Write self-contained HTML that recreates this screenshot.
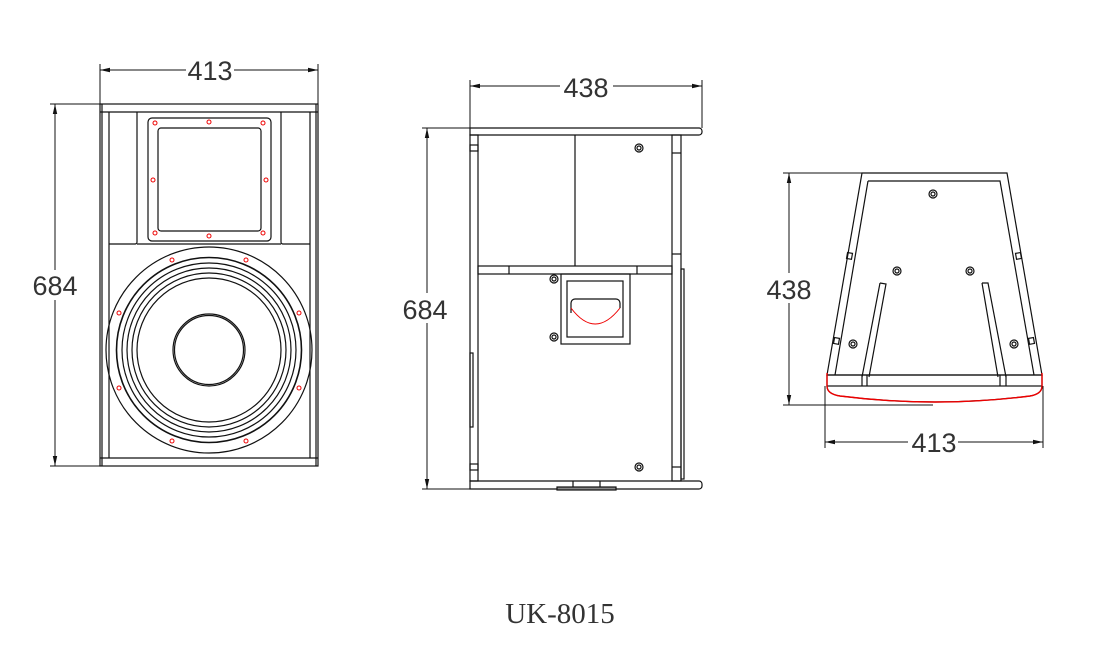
<!DOCTYPE html>
<html><head><meta charset="utf-8"><style>
html,body{margin:0;padding:0;background:#fff;}
svg{display:block}
text{font-family:"Liberation Sans",sans-serif;fill:#333;}
</style></head><body>
<svg width="1101" height="662" viewBox="0 0 1101 662" xmlns="http://www.w3.org/2000/svg">
<defs>
<marker id="ar" viewBox="0 0 10 6" refX="10" refY="3" markerWidth="10" markerHeight="6" orient="auto-start-reverse" markerUnits="userSpaceOnUse"><path d="M10,3 L0,0.8 L0,5.2 Z" fill="#111"/></marker>
</defs>
<g fill="none" stroke="#111" stroke-width="1.2">
<!-- FRONT VIEW -->
<rect x="100" y="104" width="218" height="362"/>
<line x1="102" y1="104" x2="102" y2="466"/>
<line x1="316" y1="104" x2="316" y2="466"/>
<line x1="100" y1="112" x2="318" y2="112"/>
<line x1="100" y1="458" x2="318" y2="458"/>
<line x1="109" y1="112" x2="109" y2="458"/>
<line x1="310" y1="112" x2="310" y2="458"/>
<path d="M109,244 H135 a2,2 0 0 0 2,-2 V112"/>
<path d="M310,244 H283 a2,2 0 0 1 -2,-2 V112"/>
<line x1="137" y1="244" x2="281" y2="244"/>
<rect x="148" y="118" width="123" height="123" rx="4"/>
<rect x="158" y="128" width="103" height="103" rx="3"/>
<circle cx="209" cy="350" r="103"/>
<circle cx="209" cy="350" r="92.5" stroke-width="1.6"/>
<circle cx="209" cy="350" r="87"/>
<circle cx="209" cy="350" r="82"/>
<circle cx="209" cy="350" r="77"/>
<circle cx="209" cy="350" r="72"/>
<circle cx="209" cy="350" r="36"/>
<circle cx="209" cy="350" r="34.5"/>
</g>
<g fill="none" stroke="#e00" stroke-width="1">
<circle cx="155" cy="123" r="2"/><circle cx="209" cy="122" r="2"/><circle cx="263" cy="123" r="2"/>
<circle cx="153" cy="180" r="2"/><circle cx="266" cy="180" r="2"/>
<circle cx="155" cy="233" r="2"/><circle cx="209" cy="236" r="2"/><circle cx="263" cy="233" r="2"/>
<circle cx="172" cy="260" r="2"/><circle cx="246" cy="260" r="2"/>
<circle cx="119" cy="313" r="2"/><circle cx="299" cy="313" r="2"/>
<circle cx="119" cy="388" r="2"/><circle cx="299" cy="388" r="2"/>
<circle cx="172" cy="441" r="2"/><circle cx="246" cy="441" r="2"/>
</g>
<!-- front dims -->
<g stroke="#111" stroke-width="1" fill="none">
<line x1="100" y1="64" x2="100" y2="104"/><line x1="318" y1="64" x2="318" y2="104"/>
<line x1="100" y1="70" x2="186" y2="70" marker-start="url(#ar)"/><line x1="234" y1="70" x2="318" y2="70" marker-end="url(#ar)"/>
<line x1="50" y1="104" x2="100" y2="104"/><line x1="50" y1="466" x2="100" y2="466"/>
<line x1="55" y1="104" x2="55" y2="270" marker-start="url(#ar)"/><line x1="55" y1="300" x2="55" y2="466" marker-end="url(#ar)"/>
</g>
<text x="210" y="80" font-size="27" text-anchor="middle">413</text>
<text x="55" y="295" font-size="27" text-anchor="middle">684</text>

<!-- SIDE VIEW -->
<g fill="none" stroke="#111" stroke-width="1.2">
<path d="M470,128 H699 a3,3 0 0 1 3,3 v1 a3,3 0 0 1 -3,3 H470 Z"/>
<path d="M470,481 H699 a3,3 0 0 1 3,3 v2 a3,3 0 0 1 -3,3 H470 Z"/>
<rect x="470" y="135" width="8" height="346"/>
<rect x="672" y="135" width="9" height="346"/>
<line x1="672" y1="153" x2="681" y2="153"/><line x1="672" y1="254" x2="681" y2="254"/>
<line x1="672" y1="467" x2="681" y2="467"/>
<rect x="681" y="269" width="3" height="210"/>
<rect x="470" y="353" width="3" height="74"/>
<rect x="470" y="145" width="8" height="6"/><rect x="470" y="464" width="8" height="6"/>
<rect x="478" y="266" width="194" height="8"/>
<line x1="509" y1="266" x2="509" y2="274"/><line x1="637" y1="266" x2="637" y2="274"/>
<line x1="575" y1="135" x2="575" y2="266"/>
<rect x="561" y="274" width="69" height="70"/>
<rect x="567" y="281" width="56" height="56"/>
<path d="M571,313 V303 a4,4 0 0 1 4,-4 H616 a4,4 0 0 1 4,4 V308"/>
<line x1="573" y1="481" x2="573" y2="489"/><line x1="600" y1="481" x2="600" y2="489"/>
<rect x="557" y="487" width="59" height="3" fill="#888"/>
<circle cx="639" cy="148" r="4"/><circle cx="639" cy="148" r="2"/>
<circle cx="554" cy="279" r="4"/><circle cx="554" cy="279" r="2"/>
<circle cx="554" cy="337" r="4"/><circle cx="554" cy="337" r="2"/>
<circle cx="639" cy="467" r="4"/><circle cx="639" cy="467" r="2"/>
</g>
<path d="M571,308 Q595,340 620,308" fill="none" stroke="#e00" stroke-width="1"/>
<g stroke="#111" stroke-width="1" fill="none">
<line x1="470" y1="80" x2="470" y2="128"/><line x1="702" y1="80" x2="702" y2="128"/>
<line x1="470" y1="86" x2="560" y2="86" marker-start="url(#ar)"/><line x1="613" y1="86" x2="702" y2="86" marker-end="url(#ar)"/>
<line x1="422" y1="128" x2="470" y2="128"/><line x1="422" y1="489" x2="470" y2="489"/>
<line x1="427" y1="128" x2="427" y2="293" marker-start="url(#ar)"/><line x1="427" y1="323" x2="427" y2="489" marker-end="url(#ar)"/>
</g>
<text x="586" y="97" font-size="27" text-anchor="middle">438</text>
<text x="425" y="319" font-size="27" text-anchor="middle">684</text>

<!-- REAR VIEW -->
<g fill="none" stroke="#111" stroke-width="1.2">
<path d="M862,173 H1007 L1042,375 H827 Z"/>
<path d="M868,181 H1000 L1034,375 M835,375 L868,181"/>
<rect x="827" y="375" width="215" height="11"/>
<line x1="862" y1="375" x2="862" y2="386"/><line x1="867" y1="375" x2="867" y2="386"/>
<line x1="1000" y1="375" x2="1000" y2="386"/><line x1="1006" y1="375" x2="1006" y2="386"/>
<path d="M827,386 Q827,394 840,396 Q935,408 1030,396 Q1042,394 1042,386"/>
<path d="M880,283 L886,284 L869,377 M862,377 L880,283"/>
<path d="M982,283 L988,283 L1006,377 M998,377 L982,283"/>
<rect x="847" y="253" width="5" height="6" transform="rotate(10 850 256)"/>
<rect x="1016" y="253" width="5" height="6" transform="rotate(-10 1018 256)"/>
<rect x="834" y="338" width="5" height="6" transform="rotate(10 837 341)"/>
<rect x="1029" y="338" width="5" height="6" transform="rotate(-10 1031 341)"/>
<circle cx="933" cy="194" r="4"/><circle cx="933" cy="194" r="2"/>
<circle cx="897" cy="271" r="4"/><circle cx="897" cy="271" r="2"/>
<circle cx="970" cy="271" r="4"/><circle cx="970" cy="271" r="2"/>
<circle cx="853" cy="344" r="4"/><circle cx="853" cy="344" r="2"/>
<circle cx="1014" cy="344" r="4"/><circle cx="1014" cy="344" r="2"/>
</g>
<g fill="none" stroke="#e00" stroke-width="1.4">
<path d="M827,373 V386 Q827,394 840,396 Q935,408 1030,396 Q1042,394 1042,386 V373"/>
</g>
<g stroke="#111" stroke-width="1" fill="none">
<line x1="783" y1="173" x2="862" y2="173"/><line x1="783" y1="405" x2="933" y2="405"/>
<line x1="789" y1="173" x2="789" y2="273" marker-start="url(#ar)"/><line x1="789" y1="303" x2="789" y2="405" marker-end="url(#ar)"/>
<line x1="825" y1="386" x2="825" y2="448"/><line x1="1043" y1="386" x2="1043" y2="448"/>
<line x1="825" y1="442" x2="908" y2="442" marker-start="url(#ar)"/><line x1="958" y1="442" x2="1043" y2="442" marker-end="url(#ar)"/>
</g>
<text x="789" y="299" font-size="27" text-anchor="middle">438</text>
<text x="934" y="452" font-size="27" text-anchor="middle">413</text>

<text x="560" y="623" font-size="29" text-anchor="middle" style="font-family:'Liberation Serif',serif">UK-8015</text>
</svg>
</body></html>
